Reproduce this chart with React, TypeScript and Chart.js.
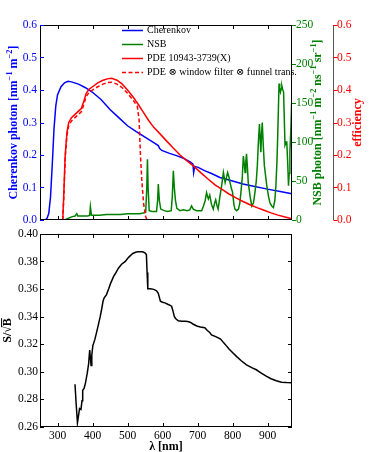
import React, { useEffect, useRef } from "react";
import { Chart, registerables } from "chart.js";
Chart.register(...registerables);

// ---------- tick values ----------
const xTicks = [300, 400, 500, 600, 700, 800, 900];
const cherTicks = [0, 0.1, 0.2, 0.3, 0.4, 0.5, 0.6];
const nsbTicks = [0, 50, 100, 150, 200, 250];
const effTicks = [0, 0.1, 0.2, 0.3, 0.4, 0.5, 0.6];
const snrTicks = [0.26, 0.28, 0.3, 0.32, 0.34, 0.36, 0.38, 0.4];

// ---------- Cherenkov photon spectrum ----------
const cherWl = [265, 270, 275, 280, 285, 290, 295, 300, 310, 320, 330, 340, 360, 380, 400, 425, 450, 475, 500, 525, 550, 575, 588, 592, 598, 620, 640, 660, 680, 687, 689, 692, 702, 720, 740, 764, 780, 800, 830, 860, 900, 940, 970];
const cherVal = [0, 0.005, 0.02, 0.07, 0.17, 0.28, 0.35, 0.385, 0.41, 0.422, 0.427, 0.425, 0.418, 0.407, 0.393, 0.37, 0.34, 0.315, 0.29, 0.272, 0.255, 0.238, 0.229, 0.22, 0.214, 0.205, 0.198, 0.19, 0.178, 0.172, 0.146, 0.165, 0.162, 0.152, 0.143, 0.131, 0.126, 0.12, 0.111, 0.104, 0.095, 0.087, 0.081];

// ---------- NSB photon spectrum ----------
const nsbWl = [320, 330, 340, 350, 355, 358, 365, 375, 385, 392, 394, 397, 405, 420, 440, 460, 480, 500, 520, 535, 545, 552, 555, 557, 559, 562, 570, 583, 586, 588, 591, 595, 605, 615, 625, 628, 631, 634, 637, 641, 650, 660, 670, 678, 683, 688, 697, 705, 712, 717, 722, 726, 729, 731, 735, 740, 745, 749, 752, 756, 759, 764, 769, 774, 779, 783, 786, 790, 793, 797, 800, 804, 807, 812, 817, 821, 824, 828, 831, 834, 836, 838, 840, 843, 845, 848, 850, 855, 860, 864, 868, 871, 874, 877, 879, 881, 883, 885, 888, 891, 895, 898, 903, 907, 912, 917, 921, 924, 927, 929, 931, 933, 935, 937, 939, 941, 943, 946, 948, 950, 953, 955, 958, 960, 962, 964, 967, 969, 970];
const nsbVal = [0, 2, 4, 5, 8, 5, 5, 5, 5, 6, 17, 6, 6, 6, 7, 7, 7, 8, 8, 8, 9, 10, 40, 78, 40, 12, 11, 11, 25, 46, 25, 14, 12, 11, 12, 30, 63, 40, 25, 15, 12, 13, 12, 13, 18, 14, 12, 12, 12, 18, 25, 35, 30, 27, 32, 20, 14, 22, 26, 18, 14, 30, 44, 61, 48, 55, 61, 55, 48, 40, 36, 20, 14, 12, 14, 22, 35, 55, 82, 70, 61, 75, 85, 65, 48, 38, 31, 18, 22, 35, 50, 70, 100, 123, 105, 87, 110, 125, 95, 70, 55, 44, 30, 22, 18, 16, 25, 44, 75, 105, 140, 175, 168, 164, 168, 172, 168, 164, 130, 96, 100, 101, 70, 44, 60, 87, 120, 151, 155];

// ---------- PDE 10943-3739(X) ----------
const pdeWl = [315, 318, 322, 327, 332, 340, 350, 360, 368, 375, 382, 390, 400, 415, 430, 445, 455, 470, 485, 500, 515, 530, 545, 560, 575, 593, 610, 630, 650, 670, 690, 710, 730, 750, 770, 790, 810, 830, 850, 870, 890, 910, 930, 950, 970];
const pdeVal = [0, 0.08, 0.2, 0.27, 0.3, 0.315, 0.325, 0.335, 0.343, 0.365, 0.39, 0.402, 0.41, 0.422, 0.43, 0.435, 0.436, 0.43, 0.418, 0.4, 0.38, 0.357, 0.332, 0.307, 0.285, 0.265, 0.245, 0.222, 0.2, 0.182, 0.165, 0.145, 0.126, 0.108, 0.094, 0.08, 0.068, 0.057, 0.047, 0.038, 0.03, 0.022, 0.015, 0.009, 0.004];

// ---------- PDE x window filter x funnel transmission ----------
const pdeFiltWl = [315, 318, 322, 327, 332, 340, 350, 360, 368, 375, 382, 390, 400, 415, 430, 445, 455, 470, 485, 500, 515, 528, 533, 537, 541, 546, 552, 556];
const pdeFiltVal = [0, 0.07, 0.19, 0.26, 0.29, 0.305, 0.315, 0.325, 0.333, 0.355, 0.38, 0.392, 0.4, 0.41, 0.418, 0.423, 0.424, 0.418, 0.407, 0.39, 0.37, 0.35, 0.31, 0.2, 0.12, 0.05, 0.01, 0];

// ---------- S / sqrt(B) ----------
const snrWl = [350, 353, 357, 360, 363, 367, 370, 372, 376, 380, 385, 389, 392, 394, 396, 398, 401, 407, 412, 417, 422, 426, 430, 433, 440, 446, 452, 460, 467, 474, 483, 493, 503, 515, 525, 531, 543, 550, 554, 556, 558, 565, 575, 583, 588, 591, 594, 600, 607, 615, 622, 626, 630, 634, 638, 645, 655, 665, 672, 679, 688, 698, 708, 721, 728, 735, 740, 752, 766, 775, 782, 790, 800, 812, 825, 840, 855, 868, 880, 895, 910, 925, 940, 955, 970];
const snrVal = [0.291, 0.278, 0.263, 0.268, 0.2734, 0.2727, 0.279, 0.2866, 0.288, 0.292, 0.299, 0.306, 0.3158, 0.31, 0.3045, 0.312, 0.319, 0.3237, 0.329, 0.3344, 0.34, 0.3452, 0.351, 0.3535, 0.356, 0.36, 0.3643, 0.369, 0.372, 0.3751, 0.378, 0.3799, 0.383, 0.3858, 0.3868, 0.387, 0.387, 0.3862, 0.3851, 0.372, 0.3603, 0.3603, 0.3598, 0.3588, 0.357, 0.354, 0.3512, 0.3505, 0.35, 0.349, 0.3482, 0.3476, 0.344, 0.34, 0.3385, 0.337, 0.3366, 0.3366, 0.3365, 0.336, 0.3345, 0.3332, 0.3325, 0.332, 0.33, 0.3285, 0.3268, 0.3255, 0.3237, 0.321, 0.319, 0.3165, 0.314, 0.311, 0.308, 0.305, 0.303, 0.3015, 0.2995, 0.297, 0.295, 0.2935, 0.2925, 0.2922, 0.292];

const BLUE = "#0000ff";
const GREEN = "#008000";
const RED = "#ff0000";
const FAMILY = "'Liberation Serif', 'DejaVu Serif', serif";
const font = (size: number, bold = false) => `${bold ? "bold " : ""}${size}px ${FAMILY}`;

const pts = (xs: number[], ys: number[]) => xs.map((x, i) => ({ x, y: ys[i] }));

type Seg = { t: string; sup?: boolean; over?: boolean };

function drawRich(ctx: CanvasRenderingContext2D, segs: Seg[], cx: number, cy: number, size: number, color: string, bold: boolean, rotate: boolean) {
  ctx.save();
  ctx.translate(cx, cy);
  if (rotate) ctx.rotate(-Math.PI / 2);
  const widths = segs.map((s) => {
    ctx.font = font(s.sup ? size * 0.7 : size, bold);
    return ctx.measureText(s.t).width;
  });
  const total = widths.reduce((a, b) => a + b, 0);
  let x = -total / 2;
  ctx.fillStyle = color;
  ctx.strokeStyle = color;
  ctx.textBaseline = "middle";
  ctx.textAlign = "left";
  segs.forEach((s, i) => {
    ctx.font = font(s.sup ? size * 0.7 : size, bold);
    ctx.fillText(s.t, x, s.sup ? -size * 0.38 : 0);
    if (s.over) {
      const m = ctx.measureText(s.t);
      const yy = -(m.actualBoundingBoxAscent || size * 0.4) - 1.5;
      ctx.lineWidth = 1;
      ctx.beginPath();
      ctx.moveTo(x - 1, yy);
      ctx.lineTo(x + widths[i], yy);
      ctx.stroke();
    }
    x += widths[i];
  });
  ctx.restore();
}

function line(ctx: CanvasRenderingContext2D, x1: number, y1: number, x2: number, y2: number, color: string, w = 1) {
  ctx.strokeStyle = color;
  ctx.lineWidth = w;
  ctx.beginPath();
  ctx.moveTo(x1, y1);
  ctx.lineTo(x2, y2);
  ctx.stroke();
}

const topPlugin = {
  id: "topDecor",
  afterDraw(chart: any) {
    const ctx: CanvasRenderingContext2D = chart.ctx;
    const a = chart.chartArea;
    const sx = chart.scales.x, sy = chart.scales.y, sn = chart.scales.yN, se = chart.scales.yE;
    ctx.save();
    ctx.strokeStyle = "#000";
    ctx.lineWidth = 1;
    ctx.strokeRect(Math.round(a.left) + 0.5, Math.round(a.top) + 0.5, Math.round(a.right - a.left) - 1, Math.round(a.bottom - a.top) - 1);
    xTicks.forEach((v) => {
      const px = Math.round(sx.getPixelForValue(v)) + 0.5;
      line(ctx, px, a.top, px, a.top + 4, "#000");
      line(ctx, px, a.bottom, px, a.bottom - 4, "#000");
    });
    cherTicks.forEach((v) => {
      const py = Math.round(sy.getPixelForValue(v)) + 0.5;
      line(ctx, a.left, py, a.left + 4, py, BLUE);
    });
    nsbTicks.forEach((v) => {
      const py = Math.round(sn.getPixelForValue(v)) + 0.5;
      line(ctx, a.right, py, a.right + 4, py, GREEN);
    });
    const ex = Math.round(se.left) + 0.5;
    line(ctx, ex, a.top, ex, a.bottom, "#555");
    effTicks.forEach((v) => {
      const py = Math.round(se.getPixelForValue(v)) + 0.5;
      line(ctx, ex, py, ex + 4, py, RED);
    });
    const cy = (a.top + a.bottom) / 2;
    drawRich(ctx, [{ t: "Cherenkov photon [nm" }, { t: "−1", sup: true }, { t: " m" }, { t: "−2", sup: true }, { t: "]" }], 14, cy, 12, BLUE, true, true);
    drawRich(ctx, [{ t: "NSB photon [nm" }, { t: "−1", sup: true }, { t: " m" }, { t: "−2", sup: true }, { t: " ns" }, { t: "−1", sup: true }, { t: " sr" }, { t: "−1", sup: true }, { t: "]" }], 318, cy, 12, GREEN, true, true);
    drawRich(ctx, [{ t: "efficiency" }], 358, cy, 12, RED, true, true);
    [0, 1, 2, 3].forEach((di, i) => {
      const ds = chart.data.datasets[di];
      const y = 30 + i * 14;
      ctx.save();
      ctx.setLineDash(ds.borderDash || []);
      line(ctx, 122, y + 0.5, 143, y + 0.5, ds.borderColor, 1.5);
      ctx.restore();
      ctx.fillStyle = "#000";
      ctx.font = font(10);
      ctx.textBaseline = "middle";
      ctx.textAlign = "left";
      ctx.fillText(ds.label, 147, y);
    });
    ctx.restore();
  },
};

const botPlugin = {
  id: "botDecor",
  afterDraw(chart: any) {
    const ctx: CanvasRenderingContext2D = chart.ctx;
    const a = chart.chartArea;
    const sx = chart.scales.x, sy = chart.scales.y;
    ctx.save();
    ctx.strokeStyle = "#000";
    ctx.lineWidth = 1;
    ctx.strokeRect(Math.round(a.left) + 0.5, Math.round(a.top) + 0.5, Math.round(a.right - a.left) - 1, Math.round(a.bottom - a.top) - 1);
    xTicks.forEach((v) => {
      const px = Math.round(sx.getPixelForValue(v)) + 0.5;
      line(ctx, px, a.top, px, a.top + 4, "#000");
      line(ctx, px, a.bottom, px, a.bottom - 4, "#000");
    });
    snrTicks.forEach((v) => {
      const py = Math.round(sy.getPixelForValue(v)) + 0.5;
      line(ctx, a.left, py, a.left + 4, py, "#000");
      line(ctx, a.right, py, a.right - 4, py, "#000");
    });
    drawRich(ctx, [{ t: "S/√" }, { t: "B", over: true }], 8, (a.top + a.bottom) / 2, 12, "#000", true, true);
    drawRich(ctx, [{ t: "λ [nm]" }], (a.left + a.right) / 2, 222, 12, "#000", true, false);
    ctx.restore();
  },
};

const tickFont = { family: FAMILY, size: 11.5 };
const topTickFont = { family: FAMILY, size: 11.5, lineHeight: 0.6 };

export default function App() {
  const topRef = useRef<HTMLCanvasElement>(null);
  const botRef = useRef<HTMLCanvasElement>(null);

  useEffect(() => {
    const top = new Chart(topRef.current as HTMLCanvasElement, {
      type: "line",
      data: {
        datasets: [
          { label: "Cherenkov", data: pts(cherWl, cherVal), borderColor: BLUE, borderWidth: 1.5, yAxisID: "y", order: 3 } as any,
          { label: "NSB", data: pts(nsbWl, nsbVal), borderColor: GREEN, borderWidth: 1.5, yAxisID: "yN", order: 2 } as any,
          { label: "PDE 10943-3739(X)", data: pts(pdeWl, pdeVal), borderColor: RED, borderWidth: 1.5, yAxisID: "yE", order: 1 } as any,
          { label: "PDE ⊗ window filter ⊗ funnel trans.", data: pts(pdeFiltWl, pdeFiltVal), borderColor: RED, borderWidth: 1.5, borderDash: [4, 2.5], yAxisID: "yE", order: 0 } as any,
        ],
      },
      options: {
        responsive: false,
        devicePixelRatio: 1,
        animation: false,
        layout: { padding: { top: 25, bottom: 8, left: 0, right: 0 } },
        elements: { point: { radius: 0 }, line: { tension: 0 } },
        plugins: { legend: { display: false }, tooltip: { enabled: false } },
        scales: {
          x: { type: "linear", min: 250, max: 970, display: false },
          y: {
            type: "linear", position: "left", min: 0, max: 0.6,
            afterBuildTicks: (s: any) => { s.ticks = cherTicks.map((v) => ({ value: v })); },
            afterFit: (s: any) => { s.width = 40; },
            grid: { display: false, drawTicks: false },
            border: { display: false },
            ticks: { color: BLUE, font: topTickFont, padding: 3, callback: (v: any) => Number(v).toFixed(1) },
          },
          yN: {
            type: "linear", position: "right", weight: 1, min: 0, max: 250,
            afterBuildTicks: (s: any) => { s.ticks = nsbTicks.map((v) => ({ value: v })); },
            afterFit: (s: any) => { s.width = 41; },
            grid: { display: false, drawTicks: false },
            border: { display: false },
            ticks: { color: GREEN, font: topTickFont, padding: 4, callback: (v: any) => String(v) },
          },
          yE: {
            type: "linear", position: "right", weight: 2, min: 0, max: 0.6,
            afterBuildTicks: (s: any) => { s.ticks = effTicks.map((v) => ({ value: v })); },
            afterFit: (s: any) => { s.width = 41; },
            grid: { display: false, drawTicks: false },
            border: { display: false },
            ticks: { color: RED, font: topTickFont, padding: 4, callback: (v: any) => Number(v).toFixed(1) },
          },
        },
      } as any,
      plugins: [topPlugin],
    });

    const bot = new Chart(botRef.current as HTMLCanvasElement, {
      type: "line",
      data: {
        datasets: [
          { label: "S/sqrt(B)", data: pts(snrWl, snrVal), borderColor: "#000", borderWidth: 1.5 } as any,
        ],
      },
      options: {
        responsive: false,
        devicePixelRatio: 1,
        animation: false,
        layout: { padding: { top: 7, bottom: 0, left: 0, right: 82 } },
        elements: { point: { radius: 0 }, line: { tension: 0 } },
        plugins: { legend: { display: false }, tooltip: { enabled: false } },
        scales: {
          x: {
            type: "linear", min: 250, max: 970,
            afterBuildTicks: (s: any) => { s.ticks = xTicks.map((v) => ({ value: v })); },
            afterFit: (s: any) => { s.height = 25; },
            grid: { display: false, drawTicks: false },
            border: { display: false },
            ticks: { color: "#000", font: tickFont, padding: 2, maxRotation: 0, callback: (v: any) => String(v) },
          },
          y: {
            type: "linear", position: "left", min: 0.26, max: 0.4,
            afterBuildTicks: (s: any) => { s.ticks = snrTicks.map((v) => ({ value: v })); },
            afterFit: (s: any) => { s.width = 40; },
            grid: { display: false, drawTicks: false },
            border: { display: false },
            ticks: { color: "#000", font: tickFont, padding: 2, callback: (v: any) => Number(v).toFixed(2) },
          },
        },
      } as any,
      plugins: [botPlugin],
    });

    return () => {
      top.destroy();
      bot.destroy();
    };
  }, []);

  return (
    <div style={{ position: "absolute", left: 0, top: 0, width: 374, height: 452, background: "#fff", overflow: "hidden" }}>
      <canvas ref={topRef} width={374} height={228} style={{ position: "absolute", left: 0, top: 0, width: 374, height: 228 }} />
      <canvas ref={botRef} width={374} height={227} style={{ position: "absolute", left: 0, top: 225, width: 374, height: 227 }} />
    </div>
  );
}
